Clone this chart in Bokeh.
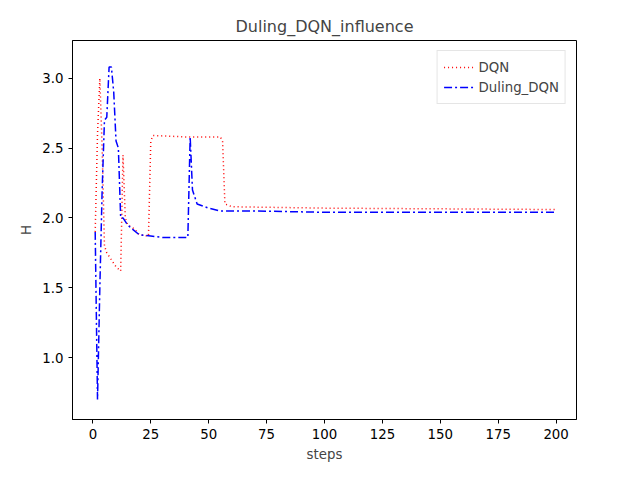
from bokeh.plotting import figure
from bokeh.models import Range1d, Legend, LegendItem, CustomJSTickFormatter
from bokeh.embed import file_html
from bokeh.resources import INLINE

dqn_x = [1, 2, 3, 4, 5, 6, 8, 10, 12, 13, 14, 15, 18, 20, 24, 25, 26, 40, 55, 56, 57, 60, 100, 150, 200]
dqn_y = [1.9, 2.6, 3.0, 2.5, 1.8, 1.75, 1.7, 1.65, 1.62, 2.45, 2.0, 1.95, 1.92, 1.88, 1.87, 2.55, 2.59, 2.58, 2.58, 2.55, 2.1, 2.08, 2.07, 2.065, 2.06]

duel_x = [1, 2, 3, 4, 5, 6, 7, 8, 9, 10, 11, 12, 13, 15, 17, 20, 25, 30, 41, 42, 43, 45, 50, 55, 70, 100, 150, 200]
duel_y = [1.9, 0.7, 1.5, 2.2, 2.7, 2.72, 3.08, 3.08, 2.9, 2.55, 2.5, 2.0, 2.0, 1.95, 1.92, 1.88, 1.87, 1.86, 1.86, 2.58, 2.2, 2.1, 2.07, 2.05, 2.05, 2.04, 2.04, 2.04]

FONT = "DejaVu Sans"

p = figure(width=624, height=464, output_backend="svg", toolbar_location=None,
           title="Duling_DQN_influence", x_range=Range1d(-8.8, 208.8), y_range=Range1d(0.557, 3.27),
           min_border_left=72, min_border_right=48, min_border_top=40, min_border_bottom=44)
p.title.align = "center"
p.title.text_font = FONT
p.title.text_font_style = "normal"
p.title.text_font_size = "12pt"
p.grid.grid_line_color = None
p.outline_line_color = "black"
p.xaxis.axis_label = "steps"
p.yaxis.axis_label = "H"
for ax in (p.xaxis, p.yaxis):
    ax.axis_label_text_font = FONT
    ax.axis_label_text_font_style = "normal"
    ax.axis_label_text_font_size = "10pt"
    ax.major_label_text_font = FONT
    ax.major_label_text_font_size = "10pt"
    ax.major_label_text_color = "black"
    ax.minor_tick_line_color = None
    ax.major_tick_out = 4
    ax.major_tick_in = 0
p.xaxis.ticker = [0, 25, 50, 75, 100, 125, 150, 175, 200]
p.yaxis.ticker = [1.0, 1.5, 2.0, 2.5, 3.0]
p.yaxis.formatter = CustomJSTickFormatter(code="return tick.toFixed(1);")

r1 = p.line(dqn_x, dqn_y, line_color="red", line_dash="1 3", line_width=1.5)
r2 = p.line(duel_x, duel_y, line_color="blue", line_dash="8 3 2 3", line_width=1.5)

leg = Legend(items=[LegendItem(label="DQN", renderers=[r1]), LegendItem(label="Duling_DQN", renderers=[r2])],
             location="top_right", label_text_font=FONT, label_text_font_size="10pt",
             border_line_color="#cccccc", spacing=0, padding=6, glyph_width=30)
p.add_layout(leg, "center")

open("out.html", "w").write(file_html(p, INLINE))
